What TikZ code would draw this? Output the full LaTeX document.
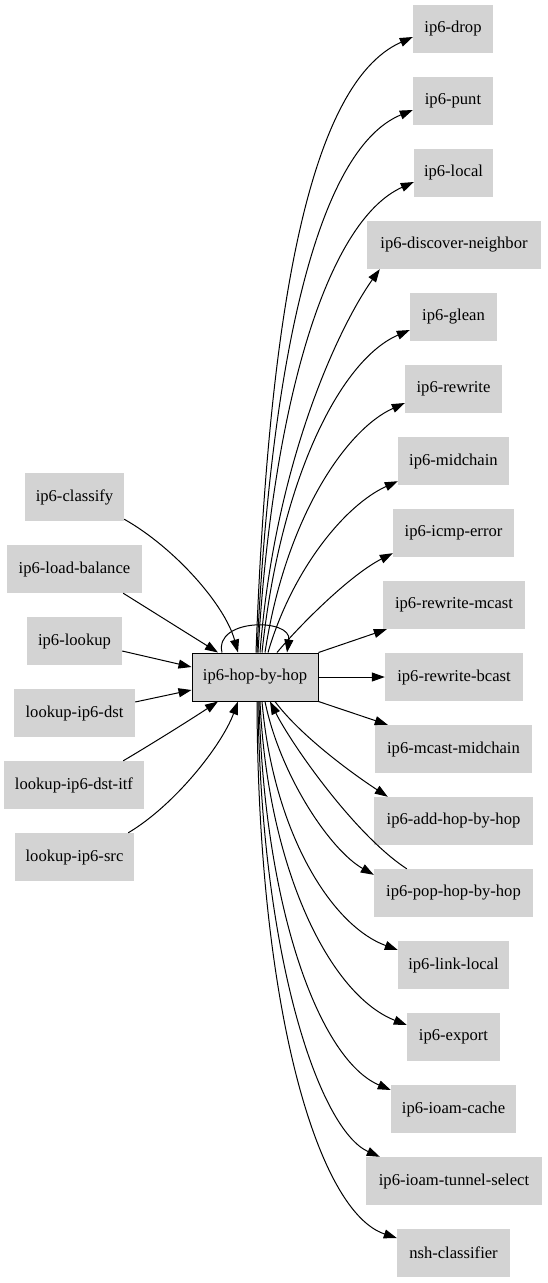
\documentclass[tikz,border=0pt]{standalone}
\usepackage{fontspec}
\setmainfont{Liberation Serif}
\usetikzlibrary{arrows.meta}
\definecolor{lg}{HTML}{D3D3D3}
\begin{document}
\begin{tikzpicture}[x=1pt,y=-1pt,
  box/.style={fill=lg,draw=none,minimum height=48pt,inner sep=0pt,
    font=\fontsize{16.6}{20}\selectfont},
  hopbox/.style={box,draw=black,line width=1pt},
  edge/.style={line width=1pt,-{Triangle[length=13pt,width=9pt]}}]
\useasboundingbox (0,0) rectangle (547,1283);
% central
\node[hopbox,minimum width=126pt] (hop) at (255,677) {ip6-hop-by-hop};
% left
\node[box,minimum width=99pt] (classify) at (74.5,497) {ip6-classify};
\node[box,minimum width=135pt] (lb) at (74.5,569) {ip6-load-balance};
\node[box,minimum width=95pt] (lookup) at (74.5,641) {ip6-lookup};
\node[box,minimum width=121pt] (ldst) at (74.5,713) {lookup-ip6-dst};
\node[box,minimum width=140pt] (itf) at (74,785) {lookup-ip6-dst-itf};
\node[box,minimum width=119pt] (src) at (74.5,857) {lookup-ip6-src};
% right
\node[box,minimum width=80pt] (drop) at (453,29) {ip6-drop};
\node[box,minimum width=80pt] (punt) at (453,101) {ip6-punt};
\node[box,minimum width=79pt] (local) at (453.5,173) {ip6-local};
\node[box,minimum width=174pt] (disc) at (454,245) {ip6-discover-neighbor};
\node[box,minimum width=87pt] (glean) at (453.5,317) {ip6-glean};
\node[box,minimum width=97pt] (rew) at (453.5,389) {ip6-rewrite};
\node[box,minimum width=111pt] (mid) at (453.5,461) {ip6-midchain};
\node[box,minimum width=121pt] (icmp) at (453.5,533) {ip6-icmp-error};
\node[box,minimum width=142pt] (rmc) at (454,605) {ip6-rewrite-mcast};
\node[box,minimum width=138pt] (rbc) at (454,677) {ip6-rewrite-bcast};
\node[box,minimum width=157pt] (mmid) at (453.5,749) {ip6-mcast-midchain};
\node[box,minimum width=159pt] (add) at (453.5,821) {ip6-add-hop-by-hop};
\node[box,minimum width=159pt] (pop) at (453.5,893) {ip6-pop-hop-by-hop};
\node[box,minimum width=111pt] (link) at (453.5,965) {ip6-link-local};
\node[box,minimum width=93pt] (exp) at (453.5,1037) {ip6-export};
\node[box,minimum width=125pt] (cache) at (453.5,1109) {ip6-ioam-cache};
\node[box,minimum width=176pt] (tun) at (454,1181) {ip6-ioam-tunnel-select};
\node[box,minimum width=113pt] (nsh) at (453.5,1253) {nsh-classifier};
% left edges
\draw[edge] ([yshift=2pt]classify.south east) .. controls (175,548) and (225,605) .. ([xshift=-17pt]hop.north);
\draw[edge] ([xshift=-19pt]lb.south east) .. controls (150,610) and (190,635) .. ([xshift=-37pt]hop.north);
\draw[edge] ([yshift=-10pt]lookup.east) -- ([yshift=10pt]hop.west);
\draw[edge] ([yshift=11pt]ldst.east) -- ([yshift=-13pt]hop.west);
\draw[edge] ([xshift=-21pt]itf.north east) .. controls (150,745) and (190,720) .. ([xshift=-37pt]hop.south);
\draw[edge] ([xshift=-6pt]src.north east) .. controls (175,805) and (222,745) .. ([xshift=-17pt]hop.south);
% self loop
\draw[edge] ([xshift=-33pt]hop.north) .. controls (214,618) and (292,618) .. ([xshift=32pt]hop.north);
% upper right edges
\draw[edge] ([xshift=1pt]hop.north) .. controls (268,330) and (305,85) .. ([yshift=-8pt]drop.west);
\draw[edge] ([xshift=2pt]hop.north) .. controls (270,370) and (315,150) .. ([yshift=-9pt]punt.west);
\draw[edge] ([xshift=3pt]hop.north) .. controls (272,410) and (325,222) .. ([yshift=-9pt]local.west);
\draw[edge] ([xshift=5pt]hop.north) .. controls (275,460) and (340,325) .. ([xshift=13pt]disc.south west);
\draw[edge] ([xshift=7pt]hop.north) .. controls (280,480) and (340,360) .. ([yshift=-13pt]glean.west);
\draw[edge] ([xshift=10pt]hop.north) .. controls (285,520) and (345,430) .. ([yshift=-14pt]rew.west);
\draw[edge] ([xshift=13pt]hop.north) .. controls (292,570) and (345,505) .. ([yshift=4pt]mid.south west);
\draw[edge] ([xshift=22pt]hop.north) .. controls (300,625) and (350,575) .. ([yshift=4pt]icmp.south west);
\draw[edge] (hop.north east) -- ([xshift=4pt]rmc.south west);
\draw[edge] (hop.east) -- (rbc.west);
\draw[edge] (hop.south east) -- ([xshift=13pt]mmid.north west);
% lower right edges
\draw[edge] ([xshift=20pt]hop.south) .. controls (300,735) and (350,772) .. ([xshift=14pt]add.north west);
\draw[edge] ([xshift=10pt]hop.south) .. controls (280,775) and (330,850) .. ([yshift=-6pt]pop.north west);
\draw[edge] ([xshift=33pt]pop.north west) .. controls (355,835) and (292,745) .. ([xshift=15pt]hop.south);
\draw[edge] ([xshift=7pt]hop.south) .. controls (273,830) and (330,925) .. ([yshift=15pt]link.west);
\draw[edge] ([xshift=5pt]hop.south) .. controls (268,870) and (330,995) .. ([yshift=12pt]exp.west);
\draw[edge] ([xshift=4pt]hop.south) .. controls (264,910) and (320,1060) .. ([yshift=19pt]cache.west);
\draw[edge] ([xshift=3pt]hop.south) .. controls (261,960) and (320,1130) .. ([xshift=14pt]tun.north west);
\draw[edge] ([xshift=2pt]hop.south) .. controls (258,1010) and (318,1212) .. ([yshift=15pt]nsh.west);
\end{tikzpicture}
\end{document}
